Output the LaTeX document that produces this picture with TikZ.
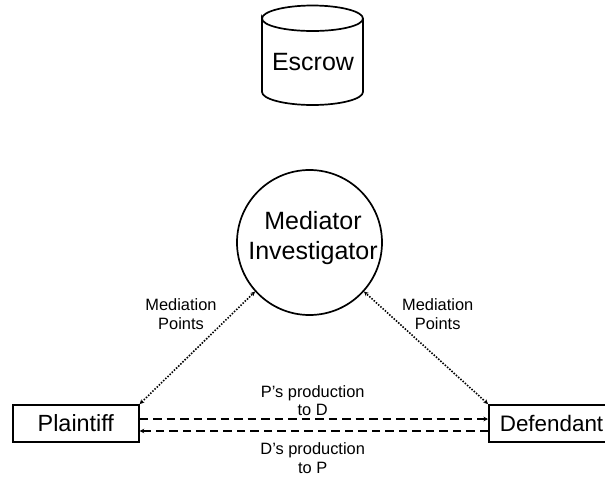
\documentclass[tikz,border=0pt]{standalone}
\usepackage{fontspec}
\setmainfont{Liberation Sans}
\usetikzlibrary{arrows.meta}
\tikzset{
  x=1pt,y=-1pt,
  shape line/.style={draw=black,line width=1.7pt},
  party/.style={shape line,minimum height=37pt,inner sep=0pt,anchor=north west,font=\fontsize{23.4}{28}\selectfont},
  hub/.style={shape line,circle,minimum size=145pt,inner sep=0pt},
  big label/.style={align=center,inner sep=0pt,font=\fontsize{25}{30}\selectfont},
  small label/.style={align=center,inner sep=0pt,font=\fontsize{16.4}{18.7}\selectfont},
  tip/.style={-{Stealth[length=4.5pt,width=4.5pt]}},
  both tips/.style={{Stealth[length=4.5pt,width=4.5pt]}-{Stealth[length=4.5pt,width=4.5pt]}},
  dot link/.style={both tips,line width=1.6pt,dash pattern=on 1.5pt off 1.5pt},
  dash link/.style={tip,line width=1.6pt,dash pattern=on 8.5pt off 5pt}
}
\begin{document}
\begin{tikzpicture}
\useasboundingbox (0,0) rectangle (605,477);
% Escrow cylinder
\draw[shape line] (262,18.5) .. controls (262,11.5) and (284.5,5.5) .. (312.5,5.5)
  .. controls (340.5,5.5) and (363,11.5) .. (363,18.5)
  .. controls (363,25.5) and (340.5,31) .. (312.5,31)
  .. controls (284.5,31) and (262,25.5) .. (262,18.5) -- (262,92)
  .. controls (262,99) and (284.5,105) .. (312.5,105)
  .. controls (340.5,105) and (363,99) .. (363,92) -- (363,18.5);
\node[big label] (escrow) at (313,62) {Escrow};
% Mediator
\node[hub] (med) at (309.5,242.5) {};
\node[big label] (medtext) at (313,238.5) {Mediator\\Investigator};
% Parties
\node[party,minimum width=126pt] (pl) at (12,404) {Plaintiff};
\node[party,minimum width=130pt] (def) at (488,404) {\makebox[126pt][l]{\hspace*{9pt}\fontsize{22.4}{28}\selectfont Defendant}};
% Connectors
\draw[dot link] (pl.north east) -- (med.222);
\draw[dot link] (def.north west) -- (med.-42);
\coordinate (defA) at (def.west |- 0,419);
\coordinate (plA) at (pl.east |- 0,419);
\coordinate (defB) at (def.west |- 0,431);
\coordinate (plB) at (pl.east |- 0,431);
\draw[dash link] (plA) -- (defA);
\draw[dash link] (defB) -- (plB);
% Labels
\node[small label] (lm) at (181,314) {Mediation\\Points};
\node[small label] (rm) at (437.7,314) {Mediation\\Points};
\node[small label] (pd) at (312.7,400.5) {P’s production\\to D};
\node[small label] (dp) at (312.7,458) {D’s production\\to P};
\end{tikzpicture}
\end{document}
